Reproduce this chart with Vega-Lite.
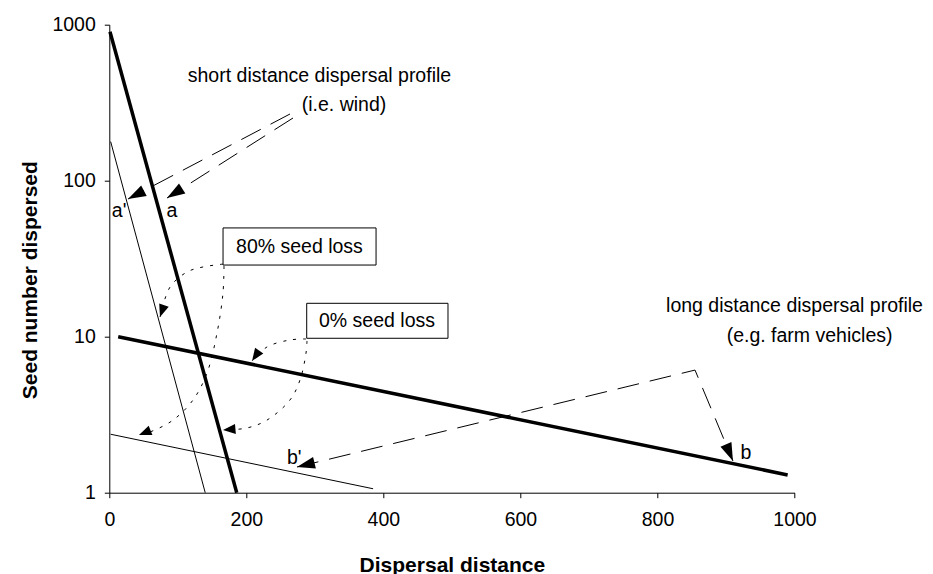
{
  "$schema": "https://vega.github.io/schema/vega-lite/v6.json",
  "width": 685.2,
  "height": 468,
  "autosize": {"type": "none"},
  "padding": {"left": 109.3, "top": 24.7, "right": 138.5, "bottom": 81.3},
  "background": "white",
  "config": {
    "view": {"stroke": null},
    "font": "Liberation Sans",
    "axis": {
      "grid": false,
      "domainColor": "black",
      "tickColor": "black",
      "labelColor": "black",
      "titleColor": "black",
      "labelFont": "Liberation Sans",
      "titleFont": "Liberation Sans",
      "labelFontSize": 19.5,
      "titleFontSize": 21,
      "titleFontWeight": "bold",
      "tickSize": 5,
      "domainWidth": 1,
      "tickWidth": 1
    }
  },
  "encoding": {
    "x": {
      "field": "x",
      "type": "quantitative",
      "scale": {"domain": [0, 1000], "nice": false, "zero": false},
      "axis": {
        "values": [0, 200, 400, 600, 800, 1000],
        "format": "d",
        "title": "Dispersal distance",
        "labelPadding": 13,
        "labelFlush": false,
        "titleY": 78.3,
        "titleBaseline": "alphabetic"
      }
    },
    "y": {
      "field": "y",
      "type": "quantitative",
      "scale": {"type": "log", "domain": [1, 1000], "nice": false},
      "axis": {
        "values": [1, 10, 100, 1000],
        "format": "d",
        "title": "Seed number dispersed",
        "labelPadding": 9,
        "titleX": -73,
        "titleY": 255,
        "titleBaseline": "alphabetic"
      }
    }
  },
  "layer": [
    {
      "data": {"values": [
        {"s": "a", "x": 1, "y": 900}, {"s": "a", "x": 186, "y": 1},
        {"s": "b", "x": 13, "y": 10}, {"s": "b", "x": 990, "y": 1.3}
      ]},
      "mark": {"type": "line", "color": "black", "strokeWidth": 3.5},
      "encoding": {"detail": {"field": "s"}}
    },
    {
      "data": {"values": [
        {"s": "a'", "x": 2, "y": 178}, {"s": "a'", "x": 140, "y": 1},
        {"s": "b'", "x": 2, "y": 2.37}, {"s": "b'", "x": 385, "y": 1.06}
      ]},
      "mark": {"type": "line", "color": "black", "strokeWidth": 1},
      "encoding": {"detail": {"field": "s"}}
    },
    {
      "data": {"values": [
        {"s": "A1", "i": 0, "x": 263.7, "y": 267.7}, {"s": "A1", "i": 1, "x": 27.3, "y": 76.3},
        {"s": "A2", "i": 0, "x": 268.1, "y": 252.3}, {"s": "A2", "i": 1, "x": 84.2, "y": 77.4},
        {"s": "B", "i": 0, "x": 273.9, "y": 1.461}, {"s": "B", "i": 1, "x": 854.8, "y": 6.11}, {"s": "B", "i": 2, "x": 910.2, "y": 1.597}
      ]},
      "mark": {"type": "line", "color": "black", "strokeWidth": 1, "strokeDash": [22, 11]},
      "encoding": {"detail": {"field": "s"}, "order": {"field": "i", "type": "quantitative"}}
    },
    {
      "data": {"values": [
        {"s": "C1", "i": 0, "x": 165.9, "y": 29.2}, {"s": "C1", "i": 1, "x": 136.7, "y": 27.99}, {"s": "C1", "i": 2, "x": 113.4, "y": 25.98}, {"s": "C1", "i": 3, "x": 88.6, "y": 20.8}, {"s": "C1", "i": 4, "x": 74.0, "y": 13.37},
        {"s": "C2", "i": 0, "x": 167.4, "y": 28.4}, {"s": "C2", "i": 1, "x": 165.9, "y": 19.06}, {"s": "C2", "i": 2, "x": 157.2, "y": 10.56}, {"s": "C2", "i": 3, "x": 142.6, "y": 5.85}, {"s": "C2", "i": 4, "x": 122.2, "y": 3.93}, {"s": "C2", "i": 5, "x": 93.0, "y": 2.92}, {"s": "C2", "i": 6, "x": 59.4, "y": 2.45}, {"s": "C2", "i": 7, "x": 43.3, "y": 2.34},
        {"s": "C3", "i": 0, "x": 287.1, "y": 9.67}, {"s": "C3", "i": 1, "x": 263.7, "y": 9.53}, {"s": "C3", "i": 2, "x": 230.1, "y": 8.59}, {"s": "C3", "i": 3, "x": 208.3, "y": 6.99},
        {"s": "C4", "i": 0, "x": 288.5, "y": 9.39}, {"s": "C4", "i": 1, "x": 287.1, "y": 7.86}, {"s": "C4", "i": 2, "x": 278.3, "y": 5.28}, {"s": "C4", "i": 3, "x": 263.7, "y": 3.93}, {"s": "C4", "i": 4, "x": 230.1, "y": 2.92}, {"s": "C4", "i": 5, "x": 201.0, "y": 2.6}, {"s": "C4", "i": 6, "x": 165.9, "y": 2.52}
      ]},
      "mark": {"type": "line", "color": "black", "strokeWidth": 1, "strokeDash": [3, 7], "interpolate": "catmull-rom"},
      "encoding": {"detail": {"field": "s"}, "order": {"field": "i", "type": "quantitative"}}
    },
    {
      "data": {"values": [{"x": 27.3, "y": 76.3}]},
      "mark": {"type": "point", "shape": "M0,0 L-0.33,1 L0.33,1 Z", "size": 1296, "filled": true, "color": "black", "opacity": 1, "angle": 242.3}
    },
    {
      "data": {"values": [{"x": 84.2, "y": 77.4}]},
      "mark": {"type": "point", "shape": "M0,0 L-0.33,1 L0.33,1 Z", "size": 1296, "filled": true, "color": "black", "opacity": 1, "angle": 237.6}
    },
    {
      "data": {"values": [{"x": 273.9, "y": 1.461}]},
      "mark": {"type": "point", "shape": "M0,0 L-0.33,1 L0.33,1 Z", "size": 1296, "filled": true, "color": "black", "opacity": 1, "angle": 256.3}
    },
    {
      "data": {"values": [{"x": 910.2, "y": 1.597}]},
      "mark": {"type": "point", "shape": "M0,0 L-0.33,1 L0.33,1 Z", "size": 1296, "filled": true, "color": "black", "opacity": 1, "angle": 157.1}
    },
    {
      "data": {"values": [{"x": 74.0, "y": 13.37}]},
      "mark": {"type": "point", "shape": "M0,0 L-0.4,1 L0.4,1 Z", "size": 625, "filled": true, "color": "black", "opacity": 1, "angle": 198.4}
    },
    {
      "data": {"values": [{"x": 43.3, "y": 2.34}]},
      "mark": {"type": "point", "shape": "M0,0 L-0.4,1 L0.4,1 Z", "size": 625, "filled": true, "color": "black", "opacity": 1, "angle": 248}
    },
    {
      "data": {"values": [{"x": 208.3, "y": 6.99}]},
      "mark": {"type": "point", "shape": "M0,0 L-0.4,1 L0.4,1 Z", "size": 625, "filled": true, "color": "black", "opacity": 1, "angle": 215}
    },
    {
      "data": {"values": [{"x": 165.9, "y": 2.52}]},
      "mark": {"type": "point", "shape": "M0,0 L-0.4,1 L0.4,1 Z", "size": 625, "filled": true, "color": "black", "opacity": 1, "angle": 265}
    },
    {
      "data": {"values": [
        {"x": 166, "x2": 389.3, "y": 28.8, "y2": 49.8},
        {"x": 288.1, "x2": 494.3, "y": 9.77, "y2": 16.37}
      ]},
      "mark": {"type": "rect", "fill": "white", "stroke": "black", "strokeWidth": 1},
      "encoding": {"x2": {"field": "x2"}, "y2": {"field": "y2"}}
    },
    {
      "data": {"values": [
        {"t": "80% seed loss", "x": 277.5, "y": 37.86},
        {"t": "0% seed loss", "x": 390.7, "y": 12.61},
        {"t": "a'", "x": 14.3, "y": 63.9},
        {"t": "a", "x": 91.5, "y": 63.9},
        {"t": "b'", "x": 270, "y": 1.669},
        {"t": "b", "x": 929.2, "y": 1.81}
      ]},
      "mark": {"type": "text", "fontSize": 19.5, "font": "Liberation Sans", "color": "black", "align": "center", "baseline": "middle"},
      "encoding": {"text": {"field": "t"}}
    },
    {
      "data": {"values": [
        {"t": "short distance dispersal profile", "x": 306.7, "y": 429.3},
        {"t": "(i.e. wind)", "x": 342.5, "y": 279.8},
        {"t": "long distance dispersal profile", "x": 1000, "y": 14.4},
        {"t": "(e.g. farm vehicles)", "x": 1022, "y": 9.25}
      ]},
      "mark": {"type": "text", "fontSize": 19.5, "font": "Liberation Sans", "color": "black", "align": "center", "baseline": "alphabetic"},
      "encoding": {"text": {"field": "t"}}
    }
  ]
}
